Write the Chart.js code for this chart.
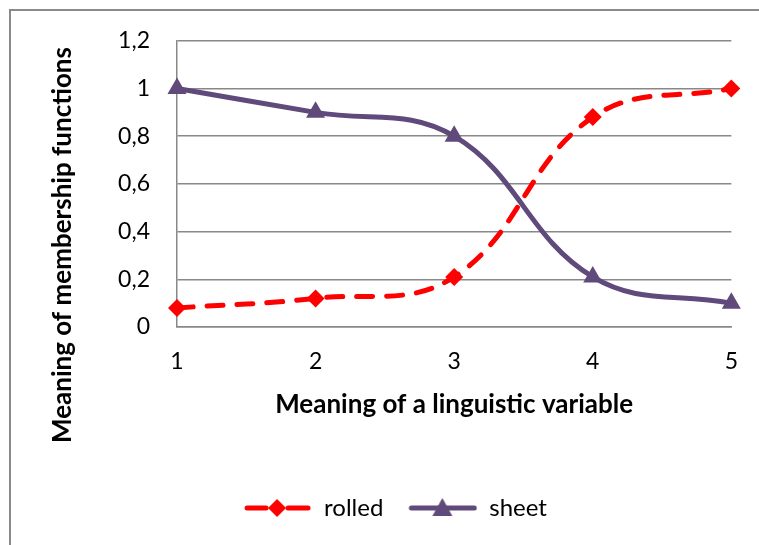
<!DOCTYPE html>
<html>
<head>
<meta charset="utf-8">
<script src="https://cdn.jsdelivr.net/npm/chart.js@4.4.0/dist/chart.umd.min.js"></script>
<style>
  body { margin: 0; background: #fff; }
  #frame { position: absolute; left: 9px; top: 9px; width: 760px; height: 546px;
           border-left: 2px solid #8a8a8a; border-top: 2px solid #8a8a8a; }
  #myChart { position: absolute; left: 0; top: 0; }
</style>
</head>
<body>
<div id="frame"></div>
<canvas id="myChart" width="759" height="545"></canvas>
<script>
const categories = ['1', '2', '3', '4', '5']
const rolled = [0.08, 0.12, 0.21, 0.88, 1.0]
const sheet = [1.0, 0.9, 0.8, 0.21, 0.1]
const yTickLabels = ['0', '0,2', '0,4', '0,6', '0,8', '1', '1,2']
const yTitle = 'Meaning of membership functions'

const red = '#ff0000'
const purple = '#5f4a7b'
const gridGray = '#888888'
const font = 'Lato'

// little legend pictures: line with marker in the middle, like Excel
function legendIcon(color, dashed, marker) {
  let c = document.createElement('canvas')
  c.width = 70
  c.height = 22
  let g = c.getContext('2d')
  g.strokeStyle = color
  g.fillStyle = color
  g.lineWidth = 5
  g.lineCap = 'round'
  g.beginPath()
  if (dashed) {
    g.moveTo(5, 11); g.lineTo(24, 11)
    g.moveTo(46, 11); g.lineTo(66, 11)
  } else {
    g.moveTo(4, 11); g.lineTo(67, 11)
  }
  g.stroke()
  g.beginPath()
  if (marker === 'diamond') {
    g.moveTo(35, 2); g.lineTo(44, 11); g.lineTo(35, 20); g.lineTo(26, 11)
  } else {
    g.moveTo(35, 1); g.lineTo(45, 19); g.lineTo(25, 19)
  }
  g.closePath()
  g.fill()
  return c
}
const icons = [legendIcon(red, true, 'diamond'), legendIcon(purple, false, 'triangle')]

// Excel puts the value-axis title lower than the middle of the plot
const yTitlePlugin = {
  id: 'yTitle',
  afterDraw(chart) {
    let c = chart.ctx
    c.save()
    c.translate(63, 245)
    c.rotate(-Math.PI / 2)
    c.font = 'bold 26px ' + font
    c.fillStyle = '#000'
    c.textAlign = 'center'
    c.textBaseline = 'middle'
    c.fillText(yTitle, 0, 0)
    c.restore()
  }
}

var ctx = document.getElementById('myChart')
var myChart = new Chart(ctx, {
  type: 'line',
  data: {
    labels: categories,
    datasets: [{
      label: 'rolled',
      data: rolled,
      borderColor: red,
      backgroundColor: red,
      borderWidth: 5,
      borderDash: [16, 14],
      borderCapStyle: 'round',
      tension: 0.4,
      pointStyle: 'rectRot',
      pointRadius: 9,
      pointHoverRadius: 9,
      pointBorderWidth: 0
    }, {
      label: 'sheet',
      data: sheet,
      borderColor: purple,
      backgroundColor: purple,
      borderWidth: 5,
      tension: 0.4,
      pointStyle: 'triangle',
      pointRadius: 11,
      pointHoverRadius: 11,
      pointBorderWidth: 0
    }]
  },
  options: {
    responsive: false,
    animation: false,
    layout: { padding: { left: 54, right: 24, top: 38, bottom: 15 } },
    scales: {
      x: {
        offset: false,
        grid: { display: false, drawTicks: false },
        border: { display: true, color: gridGray, width: 1.5 },
        ticks: { color: '#000', font: { family: font, size: 23 }, padding: 21 },
        title: {
          display: true,
          text: 'Meaning of a linguistic variable',
          color: '#000',
          font: { family: font, size: 26, weight: 'bold' },
          padding: { top: 0, bottom: 52 }
        },
        afterFit: (scale) => { scale.height = 145 }
      },
      y: {
        min: 0,
        max: 1.2,
        ticks: {
          stepSize: 0.2,
          color: '#000',
          font: { family: font, size: 23 },
          padding: 27,
          callback: (value, index) => yTickLabels[index]
        },
        grid: { color: gridGray, lineWidth: 1.5, drawTicks: false },
        border: { display: true, color: gridGray, width: 1.5 },
        afterFit: (scale) => { scale.width = 123 }
      }
    },
    plugins: {
      tooltip: { enabled: false },
      legend: {
        position: 'bottom',
        labels: {
          color: '#000',
          font: { family: font, size: 24 },
          usePointStyle: true,
          pointStyleWidth: 70,
          padding: 24,
          generateLabels: (chart) => chart.data.datasets.map((ds, i) => ({
            text: ds.label,
            pointStyle: icons[i],
            fillStyle: ds.borderColor,
            strokeStyle: ds.borderColor,
            lineWidth: 0,
            datasetIndex: i,
            hidden: false
          }))
        }
      }
    }
  },
  plugins: [yTitlePlugin]
})
</script>
</body>
</html>
